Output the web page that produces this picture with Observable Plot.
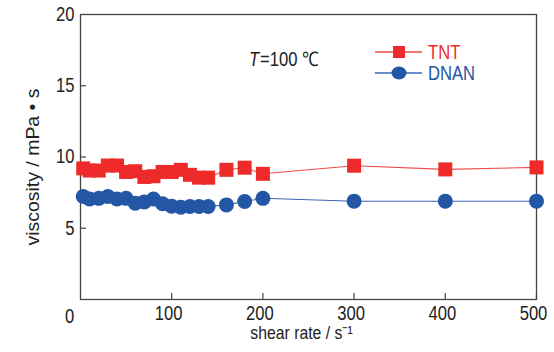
<!DOCTYPE html>
<html>
<head>
<meta charset="utf-8">
<script src="https://cdn.jsdelivr.net/npm/d3@7"></script>
<script src="https://cdn.jsdelivr.net/npm/@observablehq/plot@0.6"></script>
<style>
  html, body { margin: 0; padding: 0; background: #fff; }
  #chart svg { display: block; }
</style>
</head>
<body>
<div id="chart"></div>
<script>
const shearRate = [3, 10, 20, 30, 40, 50, 60, 70, 80, 90, 100, 110, 120, 130, 140, 160, 180, 200, 300, 400, 500];
const tntViscosity = [9.2, 9.05, 9.05, 9.4, 9.4, 8.95, 9.0, 8.6, 8.65, 8.95, 8.95, 9.1, 8.75, 8.55, 8.55, 9.1, 9.25, 8.82, 9.39, 9.13, 9.27];
const dnanViscosity = [7.23, 7.05, 7.1, 7.23, 7.06, 7.1, 6.75, 6.85, 7.05, 6.72, 6.55, 6.48, 6.53, 6.53, 6.53, 6.64, 6.88, 7.1, 6.9, 6.9, 6.9];
const xTicks = [100, 200, 300, 400, 500];
const yTicks = [5, 10, 15, 20];
const originLabel = ["0"];
const seriesNames = ["TNT", "DNAN"];
const annotationVar = "T";
const annotation = "=100 \u2103";
const xTitle = "shear rate / s\u207B\u00B9";
const yTitle = "viscosity / mPa \u2022 s";

const RED = "#ee2a2a", RED_LINE = "#f04a4a";
const BLUE = "#2356a5", BLUE_LINE = "#3c66b4";
const FONT = "'Liberation Sans', Arial, sans-serif";
const CONDENSE = 0.83;

const tnt = shearRate.map((s, i) => ({s, v: tntViscosity[i]}));
const dnan = shearRate.map((s, i) => ({s, v: dnanViscosity[i]}));

const plot = Plot.plot({
  width: 554,
  height: 352,
  marginLeft: 80,
  marginRight: 18,
  marginTop: 14,
  marginBottom: 53,
  style: {fontFamily: FONT, fontSize: "20px", color: "#222", background: "#fff"},
  x: {domain: [0, 500]},
  y: {domain: [0, 20]},
  marks: [
    Plot.frame({stroke: "#444", strokeWidth: 1.3}),
    Plot.ruleX(xTicks, {x: d => d, y1: 0, y2: 0.42, stroke: "#444", strokeWidth: 1.2}),
    Plot.ruleY(yTicks.slice(0, 3), {y: d => d, x1: 0, x2: 6.6, stroke: "#444", strokeWidth: 1.2}),
    Plot.axisX(xTicks, {tickSize: 0, tickPadding: 6, fontSize: 20, dx: -3, label: null}),
    Plot.axisY(yTicks, {tickSize: 0, tickPadding: 6, fontSize: 20, label: null}),
    Plot.text(originLabel, {x: 0, y: 0, text: d => d, dx: -11, dy: 17, fontSize: 20, fill: "#222"}),
    Plot.text([yTitle], {frameAnchor: "left", textAnchor: "middle", dx: -48, dy: 10, rotate: -90, fontSize: 19, fill: "#222", className: "ytitle"}),
    Plot.text([xTitle], {frameAnchor: "bottom", dx: -7, dy: 39, fontSize: 19, fill: "#222", lineAnchor: "bottom"}),
    Plot.line(tnt, {x: "s", y: "v", stroke: RED_LINE, strokeWidth: 1.1}),
    Plot.line(dnan, {x: "s", y: "v", stroke: BLUE_LINE, strokeWidth: 1.1}),
    Plot.dot(tnt, {x: "s", y: "v", symbol: "square", r: 7.9, fill: RED, stroke: "none"}),
    Plot.dot(dnan, {x: "s", y: "v", symbol: "circle", r: 7.5, fill: BLUE, stroke: "none"})
  ]
});

document.getElementById("chart").appendChild(plot);

// legend & annotation
const svg = d3.select(plot);
const g = svg.append("g").attr("font-family", FONT).attr("font-size", 20).attr("text-anchor", "start");
g.append("text").attr("x", 249).attr("y", 66).attr("fill", "#222").attr("font-style", "italic").text(annotationVar);
g.append("text").attr("x", 260).attr("y", 66).attr("fill", "#222").text(annotation);

const legendItems = [
  {name: seriesNames[0], color: RED, line: RED_LINE, y: 52, shape: "square"},
  {name: seriesNames[1], color: BLUE, line: BLUE_LINE, y: 73, shape: "circle"}
];
legendItems.forEach(it => {
  g.append("line").attr("x1", 375).attr("x2", 422).attr("y1", it.y).attr("y2", it.y)
    .attr("stroke", it.line).attr("stroke-width", 1.3);
  if (it.shape === "square") {
    g.append("rect").attr("x", 393).attr("y", it.y - 6).attr("width", 12).attr("height", 12).attr("fill", it.color);
  } else {
    g.append("ellipse").attr("cx", 399).attr("cy", it.y).attr("rx", 7.5).attr("ry", 6.5).attr("fill", it.color);
  }
  g.append("text").attr("x", 428).attr("y", it.y + 7).attr("fill", it.color).text(it.name);
});

// condense glyphs horizontally to mimic the narrow font of the original
plot.querySelectorAll("text").forEach(t => {
  const len = t.getComputedTextLength();
  if (len > 0) {
    const inY = t.closest(".ytitle");
    t.setAttribute("textLength", (inY ? 157 : len * CONDENSE).toFixed(2));
    t.setAttribute("lengthAdjust", "spacingAndGlyphs");
  }
});
</script>
</body>
</html>
